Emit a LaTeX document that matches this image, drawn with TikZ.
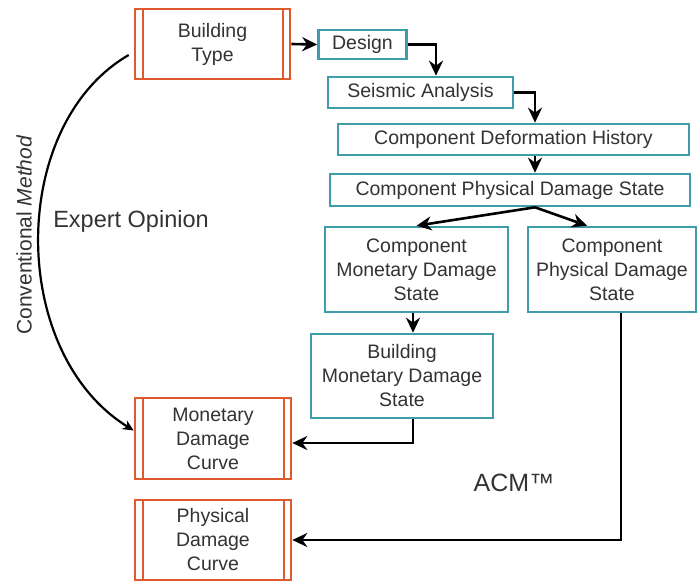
\documentclass[tikz,border=0pt]{standalone}
\usepackage{fontspec}
\setmainfont{Liberation Sans}
\usetikzlibrary{arrows.meta}
\definecolor{ocol}{HTML}{DD5A2E}
\definecolor{tcol}{HTML}{3E9DA9}
\definecolor{txt}{HTML}{333333}
\tikzset{
  boxtext/.style={text=txt, font=\fontsize{19.5}{24}\selectfont, align=center, inner sep=0pt, anchor=center},
  tbox/.style={boxtext, draw=tcol, line width=2.6pt},
  bar/.style={draw=ocol, line width=2.2pt},
  obox/.style={boxtext, draw=ocol, line width=2.6pt,
    append after command={
      ([xshift=9pt]\tikzlastnode.north west) edge[bar] ([xshift=9pt]\tikzlastnode.south west)
      ([xshift=-8pt]\tikzlastnode.north east) edge[bar] ([xshift=-8pt]\tikzlastnode.south east)}},
  arr/.style={draw=black, line width=2.6pt, -{Stealth[length=15pt,width=14pt]}},
  lbl/.style={text=txt, inner sep=0pt, anchor=center}
}
\begin{document}
\begin{tikzpicture}[x=1pt,y=-1pt]
\useasboundingbox (0,0) rectangle (698,582);
\fill[white] (0,0) rectangle (698,582);
% nodes
\node[obox, minimum width=155pt, minimum height=70pt] (bt) at (212.5,44) {Building\\Type};
\node[tbox, minimum width=88pt, minimum height=29pt] (design) at (362.5,44.5) {Design};
\node[tbox, minimum width=185pt, minimum height=31pt] (seis) at (420.5,92.5) {Seismic Analysis};
\node[tbox, minimum width=351pt, minimum height=31pt] (cdh) at (513.5,139.5) {Component Deformation History};
\node[tbox, minimum width=360pt, minimum height=32pt] (cpds) at (510,190) {Component Physical Damage State};
\node[tbox, minimum width=183pt, minimum height=85pt] (cmds) at (416.5,269.5) {Component\\Monetary Damage\\State};
\node[tbox, minimum width=168pt, minimum height=85pt] (cpdsr) at (612,269.5) {Component\\Physical Damage\\State};
\node[tbox, minimum width=182pt, minimum height=84pt] (bmds) at (402,376) {Building\\Monetary Damage\\State};
\node[obox, minimum width=156pt, minimum height=81pt] (mdc) at (213,438.5) {Monetary\\Damage\\Curve};
\node[obox, minimum width=156pt, minimum height=80pt] (pdc) at (213,540) {Physical\\Damage\\Curve};
% labels
\node[lbl, rotate=90, font=\fontsize{21}{24}\selectfont] (conv) at (24,235) {Conventional \textit{Method}};
\node[lbl, font=\fontsize{23.5}{28}\selectfont] (expert) at (131,221) {Expert Opinion};
\node[lbl, font=\fontsize{25}{30}\selectfont] (acm) at (514,483) {ACM™};
% connectors
\draw[arr] (bt.east) -- (design.west);
\draw[arr] (design.east) -| ([xshift=15.5pt]seis.north);
\draw[arr] (seis.east) -| ([xshift=21.5pt]cdh.north);
\draw[arr] ([xshift=21.5pt]cdh.south) -- ([xshift=25pt]cpds.north);
\draw[arr] ([xshift=25pt]cpds.south) -- (cmds.north);
\draw[arr] ([xshift=25pt]cpds.south) -- ([xshift=-25pt]cpdsr.north);
\draw[arr] ([xshift=-3.5pt]cmds.south) -- ([xshift=11pt]bmds.north);
\draw[arr] ([xshift=11pt]bmds.south) |- ([yshift=-4.5pt]mdc.east);
\draw[arr] ([xshift=9pt]cpdsr.south) |- (pdc.east);
\draw[draw=black, line width=2.2pt, -{Stealth[length=11pt,width=10pt]}] ([shift={(-5pt,-11pt)}]bt.west) .. controls (8,125) and (8,353) .. ([yshift=8pt]mdc.west);
\end{tikzpicture}
\end{document}
